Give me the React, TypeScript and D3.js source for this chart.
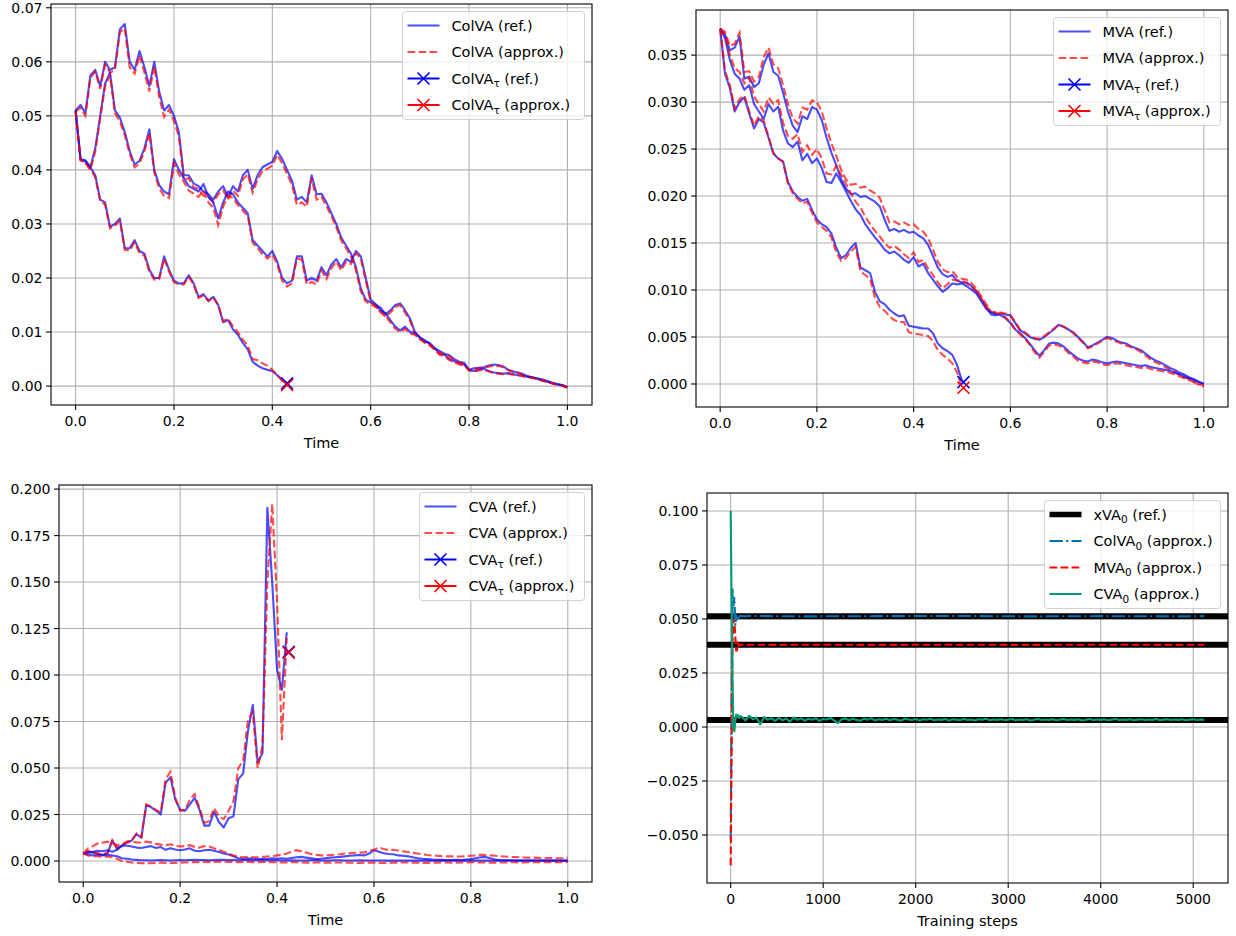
import React from "react";
import * as d3 from "d3";

const FONT = "DejaVu Sans, Verdana, sans-serif";
const W = 1236;
const H = 936;

// time grid of the simulated paths (step 0.01)
const tGrid = d3.range(0, 101).map((i) => i / 100);

// ---------- ColVA paths ----------
const colvaRef1 = [
  0.0510, 0.0520, 0.0505, 0.0575, 0.0585, 0.0555, 0.0600, 0.0585, 0.0590, 0.0660,
  0.0670, 0.0600, 0.0585, 0.0620, 0.0590, 0.0555, 0.0600, 0.0545, 0.0510, 0.0520,
  0.0500, 0.0470, 0.0390, 0.0390, 0.0375, 0.0370, 0.0360, 0.0355, 0.0345, 0.0360,
  0.0370, 0.0350, 0.0370, 0.0360, 0.0390, 0.0400, 0.0365, 0.0390, 0.0405, 0.0410,
  0.0415, 0.0435, 0.0420, 0.0400, 0.0380, 0.0345, 0.0350, 0.0340, 0.0390, 0.0355,
  0.0356, 0.0340, 0.0320, 0.0300, 0.0275, 0.0260, 0.0245, 0.0220, 0.0180, 0.0160,
  0.0155, 0.0150, 0.0145, 0.0133, 0.0140, 0.0150, 0.0153, 0.0140, 0.0125, 0.0100,
  0.0090, 0.0085, 0.0078, 0.0070, 0.0060, 0.0058, 0.0050, 0.0046, 0.0042, 0.0040,
  0.0030, 0.0033, 0.0034, 0.0035, 0.0038, 0.0040, 0.0039, 0.0036, 0.0030, 0.0027,
  0.0025, 0.0022, 0.0018, 0.0016, 0.0014, 0.0012, 0.0009, 0.0006, 0.0004, 0.0002,
  -0.0002,
];
const colvaApx1 = [
  0.0508, 0.0515, 0.0500, 0.0570, 0.0582, 0.0550, 0.0595, 0.0580, 0.0585, 0.0655,
  0.0662, 0.0590, 0.0578, 0.0612, 0.0580, 0.0545, 0.0592, 0.0535, 0.0498, 0.0512,
  0.0490, 0.0462, 0.0382, 0.0385, 0.0368, 0.0365, 0.0352, 0.0350, 0.0340, 0.0355,
  0.0362, 0.0345, 0.0362, 0.0352, 0.0382, 0.0392, 0.0358, 0.0382, 0.0398, 0.0402,
  0.0408, 0.0428, 0.0412, 0.0392, 0.0372, 0.0335, 0.0340, 0.0332, 0.0385, 0.0345,
  0.0350, 0.0333, 0.0315, 0.0294, 0.0270, 0.0255, 0.0240, 0.0215, 0.0175, 0.0156,
  0.0152, 0.0146, 0.0140, 0.0128, 0.0136, 0.0146, 0.0150, 0.0136, 0.0121, 0.0097,
  0.0087, 0.0082, 0.0075, 0.0067, 0.0058, 0.0055, 0.0048, 0.0044, 0.0040, 0.0038,
  0.0029, 0.0031, 0.0033, 0.0034, 0.0036, 0.0038, 0.0037, 0.0035, 0.0029, 0.0026,
  0.0024, 0.0021, 0.0018, 0.0015, 0.0013, 0.0011, 0.0008, 0.0005, 0.0003, 0.0001,
  -0.0003,
];
const colvaRef2 = [
  0.0510, 0.0420, 0.0418, 0.0405, 0.0440, 0.0500, 0.0560, 0.0580, 0.0510, 0.0497,
  0.0470, 0.0435, 0.0410, 0.0417, 0.0440, 0.0475, 0.0400, 0.0372, 0.0360, 0.0355,
  0.0420, 0.0400, 0.0385, 0.0370, 0.0365, 0.0360, 0.0374, 0.0350, 0.0340, 0.0310,
  0.0340, 0.0360, 0.0355, 0.0340, 0.0330, 0.0320, 0.0270, 0.0260, 0.0250, 0.0240,
  0.0250, 0.0230, 0.0200, 0.0190, 0.0195, 0.0240, 0.0240, 0.0195, 0.0200, 0.0195,
  0.0220, 0.0205, 0.0225, 0.0235, 0.0220, 0.0235, 0.0230, 0.0250, 0.0240, 0.0200,
  0.0160, 0.0152, 0.0140, 0.0135, 0.0122, 0.0110, 0.0103, 0.0110, 0.0100, 0.0098,
  0.0090, 0.0082, 0.0080, 0.0070, 0.0065, 0.0060, 0.0057, 0.0050, 0.0045, 0.0043,
  0.0030, 0.0028, 0.0030, 0.0032, 0.0028, 0.0025, 0.0024, 0.0023, 0.0024, 0.0022,
  0.0020, 0.0019, 0.0017, 0.0016, 0.0013, 0.0010, 0.0008, 0.0005, 0.0003, 0.0001,
  -0.0002,
];
const colvaApx2 = [
  0.0508, 0.0418, 0.0414, 0.0400, 0.0435, 0.0495, 0.0555, 0.0575, 0.0505, 0.0490,
  0.0465, 0.0430, 0.0405, 0.0412, 0.0435, 0.0468, 0.0395, 0.0366, 0.0352, 0.0348,
  0.0412, 0.0392, 0.0378, 0.0362, 0.0356, 0.0350, 0.0362, 0.0340, 0.0330, 0.0298,
  0.0332, 0.0352, 0.0348, 0.0335, 0.0325, 0.0315, 0.0265, 0.0255, 0.0244, 0.0236,
  0.0244, 0.0225, 0.0195, 0.0184, 0.0190, 0.0236, 0.0234, 0.0188, 0.0193, 0.0188,
  0.0214, 0.0198, 0.0218, 0.0230, 0.0214, 0.0230, 0.0226, 0.0246, 0.0236, 0.0195,
  0.0156, 0.0148, 0.0136, 0.0130, 0.0118, 0.0106, 0.0100, 0.0106, 0.0097, 0.0095,
  0.0087, 0.0080, 0.0077, 0.0068, 0.0062, 0.0058, 0.0055, 0.0048, 0.0043, 0.0041,
  0.0029, 0.0027, 0.0029, 0.0030, 0.0027, 0.0024, 0.0023, 0.0022, 0.0023, 0.0021,
  0.0020, 0.0018, 0.0016, 0.0015, 0.0012, 0.0010, 0.0007, 0.0005, 0.0002, 0.0000,
  -0.0003,
];
const colvaRef3 = [
  0.0510, 0.0420, 0.0415, 0.0405, 0.0390, 0.0345, 0.0340, 0.0295, 0.0300, 0.0310,
  0.0255, 0.0255, 0.0270, 0.0250, 0.0245, 0.0215, 0.0200, 0.0200, 0.0240, 0.0215,
  0.0195, 0.0190, 0.0190, 0.0205, 0.0190, 0.0165, 0.0170, 0.0158, 0.0165, 0.0150,
  0.0118, 0.0122, 0.0105, 0.0095, 0.0080, 0.0068, 0.0045, 0.0038, 0.0033, 0.0030,
  0.0028, 0.0020, 0.0012, 0.0005,
];
const colvaApx3 = [
  0.0508, 0.0418, 0.0412, 0.0402, 0.0386, 0.0342, 0.0336, 0.0292, 0.0297, 0.0306,
  0.0252, 0.0251, 0.0266, 0.0246, 0.0241, 0.0212, 0.0197, 0.0198, 0.0236, 0.0212,
  0.0192, 0.0188, 0.0188, 0.0202, 0.0188, 0.0163, 0.0168, 0.0157, 0.0164, 0.0150,
  0.0120, 0.0125, 0.0110, 0.0100, 0.0086, 0.0075, 0.0050, 0.0048, 0.0042, 0.0038,
  0.0030, 0.0020, 0.0010, 0.0002,
];
const colvaTau = { t: 0.43, ref: 0.0005, apx: 0.0002 };

// ---------- MVA paths ----------
const mvaRef1 = [
  0.0378, 0.0372, 0.0355, 0.0358, 0.0370, 0.0325, 0.0327, 0.0316, 0.0320, 0.0340,
  0.0352, 0.0332, 0.0328, 0.0310, 0.0290, 0.0275, 0.0268, 0.0285, 0.0282, 0.0295,
  0.0292, 0.0281, 0.0262, 0.0246, 0.0233, 0.0218, 0.0208, 0.0202, 0.0203, 0.0199,
  0.0200, 0.0197, 0.0194, 0.0189, 0.0175, 0.0163, 0.0165, 0.0162, 0.0164, 0.0161,
  0.0162, 0.0158, 0.0155, 0.0148, 0.0136, 0.0124, 0.0117, 0.0114, 0.0116, 0.0110,
  0.0108, 0.0108, 0.0104, 0.0098, 0.0090, 0.0082, 0.0074, 0.0073, 0.0075, 0.0074,
  0.0073, 0.0065, 0.0057, 0.0054, 0.0050, 0.0048, 0.0047, 0.0050, 0.0054, 0.0058,
  0.0063, 0.0061, 0.0058, 0.0055, 0.0050, 0.0045, 0.0039, 0.0041, 0.0044, 0.0047,
  0.0050, 0.0049, 0.0046, 0.0044, 0.0043, 0.0040, 0.0038, 0.0036, 0.0032, 0.0028,
  0.0025, 0.0023, 0.0020, 0.0017, 0.0015, 0.0012, 0.0010, 0.0007, 0.0005, 0.0002,
  0.0000,
];
const mvaApx1 = [
  0.0378, 0.0375, 0.0360, 0.0362, 0.0374, 0.0332, 0.0333, 0.0322, 0.0327, 0.0348,
  0.0358, 0.0340, 0.0336, 0.0318, 0.0298, 0.0283, 0.0277, 0.0294, 0.0292, 0.0302,
  0.0300, 0.0290, 0.0272, 0.0256, 0.0243, 0.0228, 0.0218, 0.0212, 0.0213, 0.0209,
  0.0210, 0.0206, 0.0203, 0.0198, 0.0185, 0.0172, 0.0173, 0.0170, 0.0172, 0.0169,
  0.0170, 0.0165, 0.0162, 0.0155, 0.0143, 0.0130, 0.0122, 0.0119, 0.0120, 0.0114,
  0.0112, 0.0111, 0.0107, 0.0101, 0.0093, 0.0085, 0.0077, 0.0075, 0.0076, 0.0075,
  0.0073, 0.0066, 0.0058, 0.0055, 0.0051, 0.0049, 0.0048, 0.0051, 0.0055, 0.0059,
  0.0063, 0.0061, 0.0058, 0.0054, 0.0049, 0.0044, 0.0038, 0.0040, 0.0043, 0.0046,
  0.0049, 0.0047, 0.0045, 0.0043, 0.0041, 0.0039, 0.0037, 0.0034, 0.0030, 0.0026,
  0.0023, 0.0021, 0.0018, 0.0015, 0.0013, 0.0010, 0.0007, 0.0005, 0.0002, -0.0001,
  -0.0003,
];
const mvaRef2 = [
  0.0378, 0.0368, 0.0345, 0.0330, 0.0325, 0.0313, 0.0318, 0.0298, 0.0290, 0.0282,
  0.0298, 0.0290, 0.0295, 0.0270, 0.0256, 0.0252, 0.0258, 0.0238, 0.0245, 0.0235,
  0.0240, 0.0230, 0.0215, 0.0214, 0.0224, 0.0215, 0.0205, 0.0195, 0.0186, 0.0180,
  0.0170, 0.0163, 0.0156, 0.0150, 0.0143, 0.0139, 0.0141, 0.0137, 0.0132, 0.0129,
  0.0135, 0.0125, 0.0128, 0.0118, 0.0111, 0.0104, 0.0098, 0.0102, 0.0107, 0.0106,
  0.0107, 0.0104, 0.0100, 0.0096, 0.0088, 0.0080, 0.0076, 0.0075, 0.0073, 0.0070,
  0.0065, 0.0058, 0.0054, 0.0049, 0.0043, 0.0036, 0.0030, 0.0036, 0.0043, 0.0044,
  0.0043, 0.0040, 0.0035, 0.0031, 0.0027, 0.0025, 0.0024, 0.0026, 0.0025, 0.0023,
  0.0022, 0.0023, 0.0024, 0.0023, 0.0022, 0.0021, 0.0020, 0.0019, 0.0020, 0.0018,
  0.0017, 0.0016, 0.0015, 0.0014, 0.0012, 0.0010, 0.0008, 0.0006, 0.0004, 0.0002,
  0.0000,
];
const mvaApx2 = [
  0.0378, 0.0371, 0.0350, 0.0336, 0.0332, 0.0320, 0.0326, 0.0306, 0.0298, 0.0290,
  0.0305, 0.0298, 0.0302, 0.0278, 0.0264, 0.0261, 0.0266, 0.0247, 0.0254, 0.0244,
  0.0250, 0.0240, 0.0224, 0.0223, 0.0232, 0.0223, 0.0213, 0.0203, 0.0194, 0.0188,
  0.0178, 0.0170, 0.0163, 0.0157, 0.0150, 0.0145, 0.0147, 0.0143, 0.0138, 0.0134,
  0.0140, 0.0130, 0.0132, 0.0123, 0.0116, 0.0108, 0.0102, 0.0106, 0.0111, 0.0110,
  0.0110, 0.0107, 0.0103, 0.0099, 0.0091, 0.0082, 0.0078, 0.0076, 0.0074, 0.0071,
  0.0066, 0.0058, 0.0053, 0.0048, 0.0042, 0.0034, 0.0028, 0.0034, 0.0041, 0.0042,
  0.0041, 0.0038, 0.0033, 0.0029, 0.0025, 0.0023, 0.0022, 0.0024, 0.0023, 0.0021,
  0.0020, 0.0021, 0.0022, 0.0021, 0.0020, 0.0019, 0.0018, 0.0017, 0.0018, 0.0016,
  0.0015, 0.0014, 0.0013, 0.0012, 0.0010, 0.0008, 0.0006, 0.0004, 0.0002, 0.0000,
  -0.0002,
];
const mvaRef3 = [
  0.0378, 0.0330, 0.0315, 0.0290, 0.0300, 0.0305, 0.0288, 0.0272, 0.0282, 0.0278,
  0.0262, 0.0245, 0.0240, 0.0237, 0.0215, 0.0205, 0.0199, 0.0195, 0.0197, 0.0185,
  0.0175, 0.0170, 0.0167, 0.0160, 0.0145, 0.0134, 0.0137, 0.0145, 0.0150, 0.0124,
  0.0121, 0.0118, 0.0098, 0.0088, 0.0085, 0.0079, 0.0075, 0.0072, 0.0073, 0.0062,
  0.0061, 0.0060, 0.0059, 0.0059, 0.0054, 0.0043, 0.0038, 0.0035, 0.0031, 0.0020,
  0.0003,
];
const mvaApx3 = [
  0.0378, 0.0333, 0.0318, 0.0293, 0.0303, 0.0307, 0.0290, 0.0275, 0.0285, 0.0280,
  0.0263, 0.0246, 0.0240, 0.0236, 0.0214, 0.0203, 0.0197, 0.0192, 0.0194, 0.0182,
  0.0172, 0.0167, 0.0163, 0.0156, 0.0140, 0.0131, 0.0134, 0.0141, 0.0146, 0.0120,
  0.0116, 0.0112, 0.0092, 0.0082, 0.0078, 0.0072, 0.0068, 0.0066, 0.0066, 0.0055,
  0.0054, 0.0053, 0.0052, 0.0051, 0.0046, 0.0036, 0.0031, 0.0027, 0.0022, 0.0012,
  -0.0004,
];
const mvaTau = { t: 0.503, ref: 0.0002, apx: -0.0004 };

// ---------- CVA paths ----------
const cvaRef1 = [
  0.0040, 0.0050, 0.0045, 0.0040, 0.0032, 0.0040, 0.0110, 0.0065, 0.0080, 0.0100,
  0.0110, 0.0145, 0.0125, 0.0300, 0.0290, 0.0270, 0.0250, 0.0420, 0.0450, 0.0330,
  0.0275, 0.0270, 0.0305, 0.0340, 0.0275, 0.0190, 0.0190, 0.0265, 0.0210, 0.0180,
  0.0230, 0.0240, 0.0440, 0.0470, 0.0700, 0.0840, 0.0530, 0.0580, 0.1900, 0.1500,
  0.1030, 0.0920, 0.1230,
];
const cvaApx1 = [
  0.0040, 0.0055, 0.0048, 0.0042, 0.0035, 0.0045, 0.0112, 0.0070, 0.0085, 0.0105,
  0.0112, 0.0148, 0.0128, 0.0305, 0.0292, 0.0275, 0.0262, 0.0440, 0.0480, 0.0340,
  0.0270, 0.0275, 0.0330, 0.0360, 0.0285, 0.0205, 0.0215, 0.0285, 0.0240, 0.0225,
  0.0270, 0.0320, 0.0500, 0.0540, 0.0760, 0.0800, 0.0500, 0.0620, 0.1500, 0.1920,
  0.1400, 0.0650, 0.1200,
];
const cvaRef2 = [
  0.0040, 0.0045, 0.0050, 0.0055, 0.0052, 0.0058, 0.0050, 0.0060, 0.0085, 0.0082,
  0.0078, 0.0072, 0.0070, 0.0075, 0.0080, 0.0070, 0.0075, 0.0060, 0.0068, 0.0062,
  0.0058, 0.0062, 0.0068, 0.0055, 0.0052, 0.0058, 0.0060, 0.0055, 0.0048, 0.0040,
  0.0035, 0.0025, 0.0015, 0.0012, 0.0014, 0.0012, 0.0010, 0.0012, 0.0011, 0.0014,
  0.0012, 0.0015, 0.0012, 0.0016, 0.0020, 0.0022, 0.0018, 0.0014, 0.0010, 0.0012,
  0.0015, 0.0018, 0.0020, 0.0022, 0.0025, 0.0028, 0.0030, 0.0032, 0.0030, 0.0040,
  0.0058, 0.0050, 0.0042, 0.0038, 0.0036, 0.0030, 0.0028, 0.0025, 0.0020, 0.0015,
  0.0012, 0.0010, 0.0008, 0.0007, 0.0006, 0.0005, 0.0005, 0.0006, 0.0005, 0.0008,
  0.0010, 0.0015, 0.0020, 0.0022, 0.0015, 0.0008, 0.0005, 0.0004, 0.0004, 0.0003,
  0.0003, 0.0003, 0.0002, 0.0003, 0.0003, 0.0002, 0.0002, 0.0003, 0.0002, 0.0002,
  0.0002,
];
const cvaApx2 = [
  0.0040, 0.0068, 0.0080, 0.0095, 0.0098, 0.0104, 0.0095, 0.0085, 0.0092, 0.0098,
  0.0104, 0.0100, 0.0098, 0.0104, 0.0100, 0.0092, 0.0088, 0.0085, 0.0090, 0.0082,
  0.0078, 0.0080, 0.0085, 0.0076, 0.0072, 0.0080, 0.0078, 0.0068, 0.0060, 0.0050,
  0.0040, 0.0030, 0.0022, 0.0020, 0.0022, 0.0020, 0.0020, 0.0022, 0.0024, 0.0026,
  0.0030, 0.0034, 0.0040, 0.0050, 0.0058, 0.0052, 0.0045, 0.0038, 0.0034, 0.0030,
  0.0030, 0.0032, 0.0034, 0.0036, 0.0040, 0.0042, 0.0044, 0.0045, 0.0046, 0.0055,
  0.0060, 0.0072, 0.0065, 0.0058, 0.0060, 0.0056, 0.0052, 0.0048, 0.0044, 0.0040,
  0.0036, 0.0032, 0.0030, 0.0028, 0.0026, 0.0025, 0.0025, 0.0024, 0.0024, 0.0026,
  0.0028, 0.0030, 0.0034, 0.0032, 0.0030, 0.0028, 0.0026, 0.0024, 0.0022, 0.0021,
  0.0020, 0.0019, 0.0018, 0.0018, 0.0017, 0.0016, 0.0016, 0.0015, 0.0015, 0.0016,
  0.0018,
];
const cvaRef3 = [
  0.0040, 0.0035, 0.0030, 0.0032, 0.0030, 0.0032, 0.0030, 0.0025, 0.0015, 0.0012,
  0.0008, 0.0006, 0.0004, 0.0004, 0.0003, 0.0004, 0.0005, 0.0004, 0.0003, 0.0004,
  0.0005, 0.0004, 0.0005, 0.0006, 0.0005, 0.0005, 0.0004, 0.0005, 0.0006, 0.0006,
  0.0005, 0.0005, 0.0004, 0.0005, 0.0005, 0.0004, 0.0004, 0.0005, 0.0004, 0.0004,
  0.0004, 0.0003, 0.0003, 0.0004, 0.0003, 0.0003, 0.0003, 0.0004, 0.0004, 0.0003,
  0.0003, 0.0003, 0.0004, 0.0004, 0.0003, 0.0003, 0.0003, 0.0004, 0.0003, 0.0003,
  0.0003, 0.0003, 0.0003, 0.0002, 0.0002, 0.0003, 0.0002, 0.0002, 0.0003, 0.0002,
  0.0002, 0.0002, 0.0003, 0.0002, 0.0002, 0.0002, 0.0002, 0.0003, 0.0002, 0.0002,
  0.0002, 0.0003, 0.0002, 0.0002, 0.0002, 0.0002, 0.0002, 0.0003, 0.0002, 0.0002,
  0.0002, 0.0002, 0.0002, 0.0002, 0.0003, 0.0002, 0.0002, 0.0002, 0.0002, 0.0002,
  0.0002,
];
const cvaApx3 = [
  0.0040, 0.0030, 0.0025, 0.0026, 0.0022, 0.0024, 0.0020, 0.0012, 0.0000, -0.0004,
  -0.0008, -0.0010, -0.0012, -0.0011, -0.0012, -0.0010, -0.0009, -0.0010, -0.0011, -0.0010,
  -0.0009, -0.0008, -0.0007, -0.0006, -0.0006, -0.0005, -0.0006, -0.0005, -0.0004, -0.0004,
  -0.0005, -0.0005, -0.0006, -0.0005, -0.0005, -0.0006, -0.0006, -0.0005, -0.0006, -0.0006,
  -0.0007, -0.0008, -0.0008, -0.0007, -0.0007, -0.0008, -0.0009, -0.0009, -0.0008, -0.0008,
  -0.0009, -0.0009, -0.0008, -0.0008, -0.0009, -0.0009, -0.0010, -0.0010, -0.0009, -0.0009,
  -0.0009, -0.0010, -0.0010, -0.0010, -0.0009, -0.0009, -0.0008, -0.0008, -0.0009, -0.0009,
  -0.0010, -0.0010, -0.0009, -0.0009, -0.0008, -0.0008, -0.0009, -0.0009, -0.0008, -0.0008,
  -0.0007, -0.0007, -0.0008, -0.0008, -0.0009, -0.0009, -0.0008, -0.0008, -0.0007, -0.0007,
  -0.0008, -0.0008, -0.0007, -0.0007, -0.0006, -0.0006, -0.0007, -0.0007, -0.0006, -0.0006,
  -0.0005,
];
const cvaTau = { t: 0.424, ref: 0.1125, apx: 0.112 };

// ---------- training of xVA_0 ----------
const xva0Ref = [0.0513, 0.0381, 0.0032];
const trainSteps = [0, 10, 20, 30, 40, 50, 60, 70, 80, 90, 100, 150, 200, 400, 800, 1600, 2400, 3200, 4000, 4800, 5120];
const colva0Train = [
  -0.052, 0.010, 0.064, 0.056, 0.060, 0.047, 0.052, 0.049, 0.0518, 0.0508, 0.0514,
  0.0512, 0.0514, 0.0513, 0.0512, 0.0513, 0.0514, 0.0512, 0.0513, 0.0512, 0.0513,
];
const mva0Train = [
  -0.064, -0.010, 0.040, 0.050, 0.048, 0.042, 0.035, 0.036, 0.0385, 0.0376, 0.0381,
  0.0379, 0.0381, 0.0380, 0.0381, 0.0380, 0.0381, 0.0380, 0.0381, 0.0380, 0.0381,
];
const cvaEarlySteps = [0, 10, 20, 30, 40, 50, 60, 70, 80, 90, 100];
const cvaEarly = [0.100, 0.060, 0.022, -0.001, -0.002, 0.003, 0.0058, 0.0046, 0.0055, 0.0042, 0.0050];
const cvaLateSteps = d3.range(120, 5121, 40);
const cvaLate = [
  0.0048, 0.0030, 0.0052, 0.0036, 0.0044, 0.0012, 0.0046, 0.0034, 0.0041, 0.0028,
  0.0043, 0.0031, 0.0039, 0.0025, 0.0044, 0.0033, 0.0040, 0.0029, 0.0038, 0.0034,
  0.0041, 0.0028, 0.0037, 0.0035, 0.0042, 0.0030, 0.0018, 0.0036, 0.0040, 0.0031,
  0.0038, 0.0033, 0.0029, 0.0039, 0.0034, 0.0041, 0.0030, 0.0036, 0.0033, 0.0038,
  0.0031, 0.0037, 0.0034, 0.0029, 0.0039, 0.0035, 0.0032, 0.0037, 0.0030, 0.0036,
  0.0034, 0.0038, 0.0031, 0.0035, 0.0033, 0.0037, 0.0030, 0.0036, 0.0034, 0.0032,
  0.0037, 0.0033, 0.0035, 0.0030, 0.0036, 0.0034, 0.0038, 0.0031, 0.0035, 0.0033,
  0.0036, 0.0032, 0.0034, 0.0037, 0.0031, 0.0035, 0.0033, 0.0036, 0.0030, 0.0034,
  0.0037, 0.0032, 0.0035, 0.0033, 0.0036, 0.0031, 0.0034, 0.0037, 0.0032, 0.0035,
  0.0033, 0.0036, 0.0030, 0.0034, 0.0037, 0.0032, 0.0035, 0.0033, 0.0036, 0.0031,
  0.0034, 0.0037, 0.0032, 0.0035, 0.0033, 0.0036, 0.0031, 0.0034, 0.0036, 0.0032,
  0.0035, 0.0033, 0.0037, 0.0031, 0.0034, 0.0036, 0.0032, 0.0035, 0.0033, 0.0036,
  0.0031, 0.0034, 0.0036, 0.0032, 0.0035, 0.0033,
];

// ---------- layout ----------
type Box = { left: number; right: number; top: number; bottom: number };
const boxTL: Box = { left: 51, right: 592, top: 4, bottom: 405 };
const boxTR: Box = { left: 696, right: 1228, top: 10, bottom: 407 };
const boxBL: Box = { left: 59, right: 592, top: 485, bottom: 882 };
const boxBR: Box = { left: 707, right: 1228, top: 493, bottom: 883 };

const BLUE = "rgba(0,0,255,0.7)";
const RED = "rgba(255,0,0,0.7)";
const DASH = "7.7,3.3";
const DASHDOT = "13.3,3.3,2.1,3.3";
const TICK_FS = 14;
const LEG_FS = 14.5;

function Sub({ a, s, b }: { a: string; s: string; b: string }) {
  return (
    <>
      {a}
      <tspan dy={3.5} fontSize={10.5}>{s}</tspan>
      <tspan dy={-3.5}>{b}</tspan>
    </>
  );
}

function Cross({ x, y, color, r = 6 }: { x: number; y: number; color: string; r?: number }) {
  return (
    <path
      d={`M${x - r},${y - r}L${x + r},${y + r}M${x - r},${y + r}L${x + r},${y - r}`}
      stroke={color}
      strokeWidth={1.6}
      fill="none"
    />
  );
}

type LegItem = { kind: "line" | "cross"; color: string; width?: number; dash?: string; label: React.ReactNode };

function Legend({ box, w, items }: { box: Box; w: number; items: LegItem[] }) {
  const x0 = box.right - 7.5 - w;
  const y0 = box.top + 7.5;
  const h = 108;
  return (
    <g>
      <rect x={x0} y={y0} width={w} height={h} rx={3} fill="rgba(255,255,255,0.8)" stroke="#d0d0d0" strokeWidth={1} />
      {items.map((it, i) => {
        const cy = y0 + 14 + i * 26.5;
        return (
          <g key={i}>
            <line x1={x0 + 5} x2={x0 + 37} y1={cy} y2={cy} stroke={it.color} strokeWidth={it.width ?? 2.1} strokeDasharray={it.dash} />
            {it.kind === "cross" && <Cross x={x0 + 21} y={cy} color={it.color} />}
            <text x={x0 + 49} y={cy + 5.2} fontSize={LEG_FS} fontFamily={FONT} fill="#000">
              {it.label}
            </text>
          </g>
        );
      })}
    </g>
  );
}

function Axes({
  id, box, x, y, xTicks, yTicks, xFmt, yFmt, xLabel, children,
}: {
  id: string; box: Box;
  x: d3.ScaleLinear<number, number>; y: d3.ScaleLinear<number, number>;
  xTicks: number[]; yTicks: number[];
  xFmt: (v: number) => string; yFmt: (v: number) => string;
  xLabel: string; children: React.ReactNode;
}) {
  return (
    <g>
      <defs>
        <clipPath id={id}>
          <rect x={box.left} y={box.top} width={box.right - box.left} height={box.bottom - box.top} />
        </clipPath>
      </defs>
      {xTicks.map((t) => (
        <line key={"gx" + t} x1={x(t)} x2={x(t)} y1={box.top} y2={box.bottom} stroke="#b0b0b0" strokeWidth={1.1} />
      ))}
      {yTicks.map((t) => (
        <line key={"gy" + t} x1={box.left} x2={box.right} y1={y(t)} y2={y(t)} stroke="#b0b0b0" strokeWidth={1.1} />
      ))}
      <g clipPath={`url(#${id})`}>{children}</g>
      <rect x={box.left} y={box.top} width={box.right - box.left} height={box.bottom - box.top} fill="none" stroke="#000" strokeWidth={1.1} />
      {xTicks.map((t) => (
        <g key={"tx" + t}>
          <line x1={x(t)} x2={x(t)} y1={box.bottom} y2={box.bottom + 4.9} stroke="#000" strokeWidth={1.1} />
          <text x={x(t)} y={box.bottom + 21} textAnchor="middle" fontSize={TICK_FS} fontFamily={FONT} fill="#000">
            {xFmt(t)}
          </text>
        </g>
      ))}
      {yTicks.map((t) => (
        <g key={"ty" + t}>
          <line x1={box.left - 4.9} x2={box.left} y1={y(t)} y2={y(t)} stroke="#000" strokeWidth={1.1} />
          <text x={box.left - 8.5} y={y(t) + 5.1} textAnchor="end" fontSize={TICK_FS} fontFamily={FONT} fill="#000">
            {yFmt(t)}
          </text>
        </g>
      ))}
      <text x={(box.left + box.right) / 2} y={box.bottom + 43} textAnchor="middle" fontSize={LEG_FS} fontFamily={FONT} fill="#000">
        {xLabel}
      </text>
    </g>
  );
}

type PathPair = { ref: number[]; apx: number[] };

function PathPanel({
  id, box, yDomain, yTicks, yFmt, paths, tau, name, legendW,
}: {
  id: string; box: Box; yDomain: [number, number]; yTicks: number[];
  yFmt: (v: number) => string; paths: PathPair[];
  tau: { t: number; ref: number; apx: number }; name: string; legendW: number;
}) {
  const x = d3.scaleLinear().domain([-0.05, 1.05]).range([box.left, box.right]);
  const y = d3.scaleLinear().domain(yDomain).range([box.bottom, box.top]);
  const ln = d3.line<number>().x((_, i) => x(tGrid[i])).y((v) => y(v));
  const xTicks = [0, 0.2, 0.4, 0.6, 0.8, 1.0];
  return (
    <g>
      <Axes id={id} box={box} x={x} y={y} xTicks={xTicks} yTicks={yTicks} xFmt={d3.format(".1f")} yFmt={yFmt} xLabel="Time">
        {paths.map((p, k) => (
          <g key={k}>
            <path d={ln(p.ref) ?? ""} fill="none" stroke={BLUE} strokeWidth={2.1} strokeLinejoin="round" />
            <path d={ln(p.apx) ?? ""} fill="none" stroke={RED} strokeWidth={2.1} strokeDasharray={DASH} />
          </g>
        ))}
        <Cross x={x(tau.t)} y={y(tau.ref)} color="blue" />
        <Cross x={x(tau.t)} y={y(tau.apx)} color="red" />
      </Axes>
      <Legend
        box={box}
        w={legendW}
        items={[
          { kind: "line", color: BLUE, label: `${name} (ref.)` },
          { kind: "line", color: RED, dash: DASH, label: `${name} (approx.)` },
          { kind: "cross", color: "blue", label: <Sub a={name} s="τ" b=" (ref.)" /> },
          { kind: "cross", color: "red", label: <Sub a={name} s="τ" b=" (approx.)" /> },
        ]}
      />
    </g>
  );
}

function TrainingPanel() {
  const box = boxBR;
  const x = d3.scaleLinear().domain([-256, 5376]).range([box.left, box.right]);
  const y = d3.scaleLinear().domain([-0.0722, 0.1083]).range([box.bottom, box.top]);
  const yTicks = [-0.05, -0.025, 0, 0.025, 0.05, 0.075, 0.1];
  const xTicks = [0, 1000, 2000, 3000, 4000, 5000];
  const ln = (steps: number[]) => d3.line<number>().x((_, i) => x(steps[i])).y((v) => y(v));
  const cvaSteps = cvaEarlySteps.concat(cvaLateSteps);
  const cvaVals = cvaEarly.concat(cvaLate);
  return (
    <g>
      <Axes id="clipBR" box={box} x={x} y={y} xTicks={xTicks} yTicks={yTicks} xFmt={d3.format("d")} yFmt={d3.format(".3f")} xLabel="Training steps">
        {xva0Ref.map((v, i) => (
          <line key={i} x1={box.left} x2={box.right} y1={y(v)} y2={y(v)} stroke="#000" strokeWidth={6} />
        ))}
        <path d={ln(trainSteps)(colva0Train) ?? ""} fill="none" stroke="#0072b2" strokeWidth={2.1} strokeDasharray={DASHDOT} />
        <path d={ln(trainSteps)(mva0Train) ?? ""} fill="none" stroke="red" strokeWidth={2.1} strokeDasharray={DASH} />
        <path d={ln(cvaSteps)(cvaVals) ?? ""} fill="none" stroke="#009e73" strokeWidth={2.1} strokeLinejoin="round" />
      </Axes>
      <Legend
        box={box}
        w={176}
        items={[
          { kind: "line", color: "#000", width: 5.5, label: <Sub a="xVA" s="0" b=" (ref.)" /> },
          { kind: "line", color: "#0072b2", dash: DASHDOT, label: <Sub a="ColVA" s="0" b=" (approx.)" /> },
          { kind: "line", color: "red", dash: DASH, label: <Sub a="MVA" s="0" b=" (approx.)" /> },
          { kind: "line", color: "#009e73", label: <Sub a="CVA" s="0" b=" (approx.)" /> },
        ]}
      />
    </g>
  );
}

export default function App() {
  return (
    <svg width={W} height={H} style={{ position: "absolute", left: 0, top: 0, background: "#fff" }}>
      <PathPanel
        id="clipTL" box={boxTL} yDomain={[-0.0035, 0.0707]}
        yTicks={d3.range(0, 0.0701, 0.01)} yFmt={d3.format(".2f")}
        paths={[
          { ref: colvaRef1, apx: colvaApx1 },
          { ref: colvaRef2, apx: colvaApx2 },
          { ref: colvaRef3, apx: colvaApx3 },
        ]}
        tau={colvaTau} name="ColVA" legendW={182}
      />
      <PathPanel
        id="clipTR" box={boxTR} yDomain={[-0.00245, 0.0398]}
        yTicks={d3.range(0, 0.0351, 0.005)} yFmt={d3.format(".3f")}
        paths={[
          { ref: mvaRef1, apx: mvaApx1 },
          { ref: mvaRef2, apx: mvaApx2 },
          { ref: mvaRef3, apx: mvaApx3 },
        ]}
        tau={mvaTau} name="MVA" legendW={167}
      />
      <PathPanel
        id="clipBL" box={boxBL} yDomain={[-0.0113, 0.2022]}
        yTicks={d3.range(0, 0.2001, 0.025)} yFmt={d3.format(".3f")}
        paths={[
          { ref: cvaRef1, apx: cvaApx1 },
          { ref: cvaRef2, apx: cvaApx2 },
          { ref: cvaRef3, apx: cvaApx3 },
        ]}
        tau={cvaTau} name="CVA" legendW={165}
      />
      <TrainingPanel />
    </svg>
  );
}
